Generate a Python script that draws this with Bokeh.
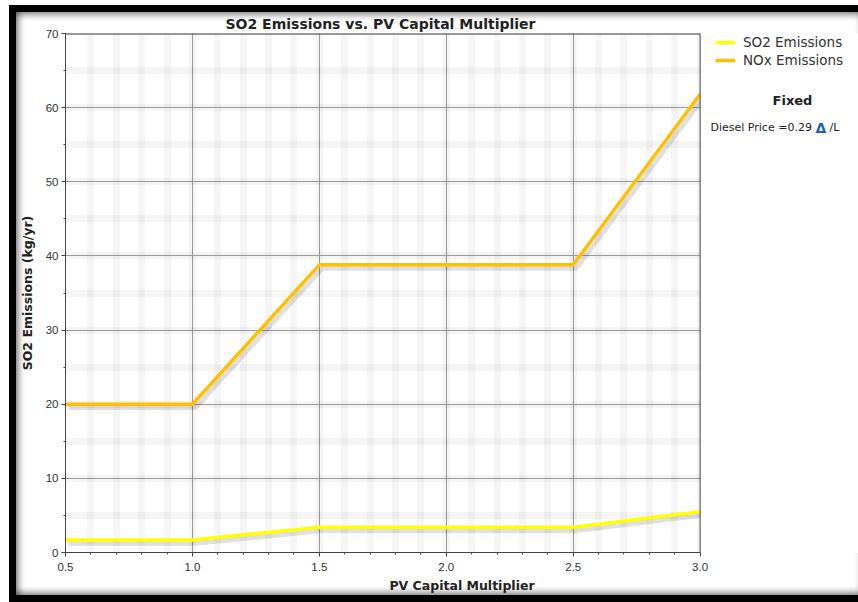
from bokeh.plotting import figure
from bokeh.layouts import column
from bokeh.models import (ColumnDataSource, SingleIntervalTicker, Range1d, Legend, LegendItem,
                          Label, PrintfTickFormatter, BoxAnnotation, Span)
from bokeh.transform import dodge
from bokeh.embed import file_html
from bokeh.resources import INLINE

# ---- data ----
pv_multiplier = [0.5, 1.0, 1.5, 2.0, 2.5, 3.0]
so2_emissions = [1.7, 1.7, 3.4, 3.4, 3.4, 5.5]
nox_emissions = [20.0, 20.0, 38.8, 38.8, 38.8, 61.8]
series_names = ["SO2 Emissions", "NOx Emissions"]
x_axis_span = (0.5, 3.0)
y_axis_span = (0, 70)

FONT = "DejaVu Sans"
TICKFONT = "Liberation Sans"
W, H = 842, 583          # figure inside the black picture frame
FL, FT = 46, 21          # plot area left/top inside figure
PR, FB = 683, 541        # plot area right (x=3.0) / bottom inside figure

X0, X1 = x_axis_span
Y0, Y1 = y_axis_span
px_per_x = (PR - FL) / (X1 - X0)
x_end = X1 + (W - PR) / px_per_x   # frame runs on to the right edge so side notes are not clipped

src = ColumnDataSource(dict(x=pv_multiplier, so2=so2_emissions, nox=nox_emissions))

p = figure(width=W, height=H, output_backend="svg", toolbar_location=None,
           x_range=Range1d(X0, x_end), y_range=Range1d(Y0, Y1),
           min_border_left=FL, min_border_right=0, min_border_top=FT, min_border_bottom=H - FB,
           background_fill_color="white", border_fill_color="white", border_fill_alpha=0)
p.outline_line_color = None
p.styles = {"box-shadow": "inset 7px 0 6px -4px rgba(0,0,0,0.45), inset 0 7px 6px -4px rgba(0,0,0,0.45), "
                          "inset 0 -7px 6px -4px rgba(0,0,0,0.45)"}

# title
p.title.text = "SO2 Emissions vs. PV Capital Multiplier"
p.title.align = "left"
p.title.offset = 160
p.title.text_font = FONT
p.title.text_font_size = "14px"
p.title.text_font_style = "bold"
p.title.text_color = "#222222"
p.title.standoff = 3

# axes
p.xaxis.ticker = SingleIntervalTicker(interval=0.5, num_minor_ticks=5)
p.yaxis.ticker = SingleIntervalTicker(interval=10, num_minor_ticks=2)
p.xaxis.formatter = PrintfTickFormatter(format="%.1f")
p.xaxis.bounds = x_axis_span
p.xaxis.axis_label = "PV Capital Multiplier"
p.yaxis.axis_label = "SO2 Emissions (kg/yr)"
for ax in (p.xaxis[0], p.yaxis[0]):
    ax.axis_line_color = "#444444"
    ax.major_tick_line_color = "#444444"
    ax.minor_tick_line_color = "#444444"
    ax.major_tick_in = 0
    ax.major_tick_out = 4
    ax.minor_tick_in = 0
    ax.minor_tick_out = 2
    ax.major_label_text_font = TICKFONT
    ax.major_label_text_font_size = "11.5px"
    ax.major_label_text_color = "#333333"
    ax.axis_label_text_font = FONT
    ax.axis_label_text_font_size = "12.5px"
    ax.axis_label_text_font_style = "bold"
    ax.axis_label_text_color = "#222222"
p.xaxis.major_label_standoff = 6
p.xaxis.axis_label_standoff = 4
p.yaxis.major_label_standoff = 3
p.yaxis.axis_label_standoff = 8

# grids: thin gray majors, soft blurred minor bands
for g in (p.xgrid[0], p.ygrid[0]):
    g.grid_line_color = "#9a9a9a"
    g.grid_line_width = 1
    g.minor_grid_line_color = "#000000"
    g.minor_grid_line_alpha = 0.04
    g.minor_grid_line_width = 7

# soft shadows of the lines
p.line(x=dodge("x", 0.012, range=p.x_range), y=dodge("nox", -0.45, range=p.y_range), source=src,
       line_color="#000000", line_alpha=0.12, line_width=5)
p.line(x=dodge("x", 0.012, range=p.x_range), y=dodge("so2", -0.45, range=p.y_range), source=src,
       line_color="#000000", line_alpha=0.12, line_width=5)

r_so2 = p.line(x="x", y="so2", source=src, line_color="#FFFF00", line_width=3.5)
r_nox = p.line(x="x", y="nox", source=src, line_color="#FFC000", line_width=3.5)

# top edge of the plot area
p.segment(x0=[X0], y0=[Y1], x1=[X1], y1=[Y1], line_color="#333333", line_width=2)

# blank out the area right of the plot (where the legend and notes sit)
p.add_layout(BoxAnnotation(left=X1, fill_color="white", fill_alpha=1, line_color=None))
# right edge of the plot area
p.add_layout(Span(location=X1, dimension="height", line_color="#444444", line_width=1))

legend = Legend(items=[LegendItem(label=series_names[0], renderers=[r_so2]),
                       LegendItem(label=series_names[1], renderers=[r_nox])],
                location=(650, 484), orientation="vertical",
                background_fill_alpha=0, border_line_color=None,
                padding=0, margin=0, spacing=2,
                glyph_width=20, glyph_height=16, label_standoff=8,
                label_text_font=FONT, label_text_font_size="13.5px", label_text_color="#333333")
p.add_layout(legend, "center")

# side notes (x from plot-area left, y up from plot-area bottom)
def note(x, y, text, size, style="normal", color="#222222", align="left"):
    p.add_layout(Label(x=x, y=y, x_units="screen", y_units="screen", text=text,
                       text_font=FONT, text_font_size=size, text_font_style=style,
                       text_color=color, text_align=align, text_baseline="middle"))

note(727, 452, "Fixed", "13px", style="bold", align="center")
note(645, 425, "Diesel Price =0.29", "11px")
note(750, 425, "Δ", "14px", style="bold", color="#1f5fbf")
note(764, 425, "/L", "11px")

page = column(p, styles={"border-top": "7px solid black", "border-left": "7px solid black",
                         "border-bottom": "7px solid black", "margin-left": "9px", "margin-top": "5px"})

open("out.html", "w").write(file_html(page, INLINE))
